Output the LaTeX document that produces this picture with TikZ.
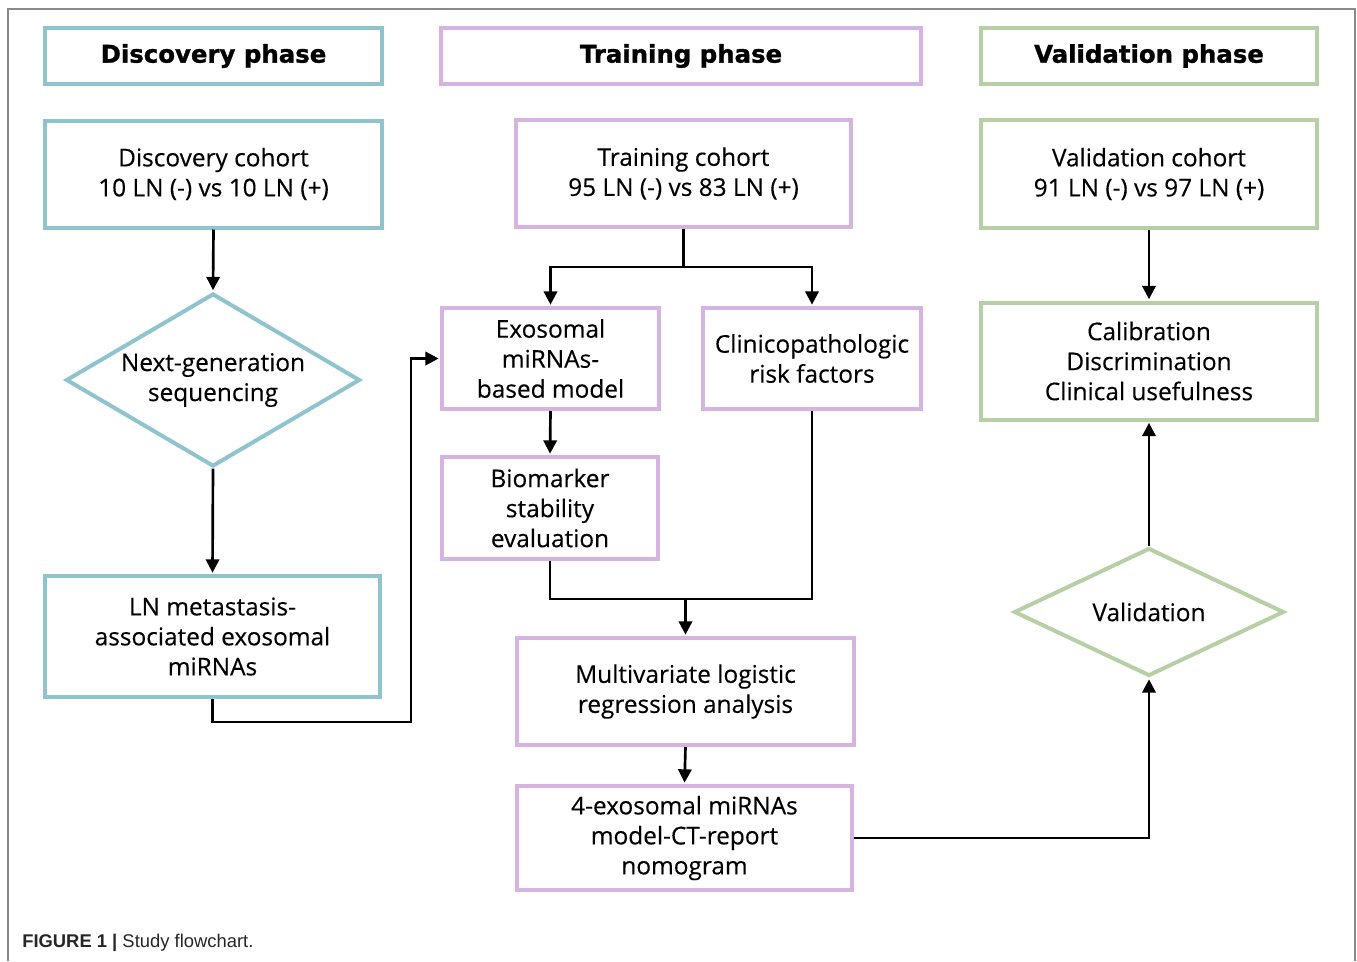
\documentclass[tikz,border=0pt]{standalone}
\usepackage{fontspec}
\setmainfont{Open Sans}
\newfontfamily\bodyfont[FakeBold=0.3]{Open Sans}
\newfontfamily\headfont[BoldFeatures={FakeBold=1.2}]{DejaVu Sans}
\newfontfamily\capfont{Liberation Sans}
\usetikzlibrary{shapes.geometric,arrows.meta}
\definecolor{cblue}{HTML}{8FC3CE}
\definecolor{cpurple}{HTML}{D5B4E1}
\definecolor{cgreen}{HTML}{B6CFA5}
\definecolor{frameg}{HTML}{8A8A8A}
\begin{document}
\begin{tikzpicture}[x=0.75pt,y=-0.75pt,
  box/.style={draw, line width=3pt, align=center, inner sep=0pt, text=black,
    font=\bodyfont\fontsize{18.3}{22.5}\selectfont},
  head/.style={box, font=\headfont\bfseries\fontsize{18.3}{20}\selectfont},
  dia/.style={box, diamond, aspect=1.7},
  arr/.style={draw=black, line width=2pt, -{Triangle[length=10pt,width=10pt]}, shorten >=1pt},
  ln/.style={draw=black, line width=2pt}
]
\useasboundingbox (0,0) rectangle (1357,961);
\draw[frameg, line width=1.5pt] (8,961) -- (8,9) -- (1355,9) -- (1355,961);

% headers
\node[head, draw=cblue, minimum width=0.75pt*337, minimum height=0.75pt*56] (dh) at (213.5,56) {Discovery phase};
\node[head, draw=cpurple, minimum width=0.75pt*480, minimum height=0.75pt*56] (th) at (681,56) {Training phase};
\node[head, draw=cgreen, minimum width=0.75pt*336, minimum height=0.75pt*56] (vh) at (1149,56) {Validation phase};

% discovery column
\node[box, draw=cblue, minimum width=0.75pt*337, minimum height=0.75pt*107] (dc) at (213.5,174) {Discovery cohort\\10 LN (-) vs 10 LN (+)};
\node[dia, draw=cblue, minimum width=0.75pt*294, minimum height=0.75pt*173] (ngs) at (213,380) {Next-generation\\sequencing};
\node[box, draw=cblue, minimum width=0.75pt*335, minimum height=0.75pt*121] (lnm) at (212.5,636.5) {LN metastasis-\\associated exosomal\\miRNAs};

% training column
\node[box, draw=cpurple, minimum width=0.75pt*335, minimum height=0.75pt*107] (tc) at (683.5,173.5) {Training cohort\\95 LN (-) vs 83 LN (+)};
\node[box, draw=cpurple, minimum width=0.75pt*217, minimum height=0.75pt*101] (ex) at (550.5,358.5) {Exosomal\\miRNAs-\\based model};
\node[box, draw=cpurple, minimum width=0.75pt*218, minimum height=0.75pt*101] (cl) at (812,358.5) {Clinicopathologic\\risk factors};
\node[box, draw=cpurple, minimum width=0.75pt*216, minimum height=0.75pt*102] (bio) at (550,508) {Biomarker\\stability\\evaluation};
\node[box, draw=cpurple, minimum width=0.75pt*337, minimum height=0.75pt*107] (mv) at (685.5,691.5) {Multivariate logistic\\regression analysis};
\node[box, draw=cpurple, minimum width=0.75pt*335, minimum height=0.75pt*104] (nom) at (684.5,838) {4-exosomal miRNAs\\model-CT-report\\nomogram};

% validation column
\node[box, draw=cgreen, minimum width=0.75pt*336, minimum height=0.75pt*108] (vc) at (1149,174) {Validation cohort\\91 LN (-) vs 97 LN (+)};
\node[box, draw=cgreen, minimum width=0.75pt*336, minimum height=0.75pt*117] (cal) at (1149,361) {Calibration\\Discrimination\\Clinical usefulness};
\node[dia, draw=cgreen, minimum width=0.75pt*270, minimum height=0.75pt*128] (vd) at (1149,612) {Validation};

% junction points
\coordinate (j1) at (411,722);
\coordinate (tj) at (683.5,267);
\coordinate (mj) at (685.5,599);

% connectors
\draw[arr] (dc.south) -- (ngs.north);
\draw[arr] (ngs.south) -- (lnm.north);
\draw[arr] (lnm.south) |- (j1) |- (ex.west);
\draw[ln] (tc.south) -- (tj);
\draw[arr] (tj) -| (ex.north);
\draw[arr] (tj) -| (cl.north);
\draw[arr] (ex.south) -- (bio.north);
\draw[ln] (bio.south) |- (mj) -| (cl.south);
\draw[arr] (mj) -- (mv.north);
\draw[arr] (mv.south) -- (nom.north);
\draw[arr] (nom.east) -| (vd.south);
\draw[arr] (vd.north) -- (cal.south);
\draw[arr] (vc.south) -- (cal.north);

% caption
\node[anchor=west, inner sep=0pt, text=black!85, font=\capfont\fontsize{13.8}{16}\selectfont] (cap) at (22,943) {\textbf{FIGURE 1 |} Study flowchart.};
\end{tikzpicture}
\end{document}
